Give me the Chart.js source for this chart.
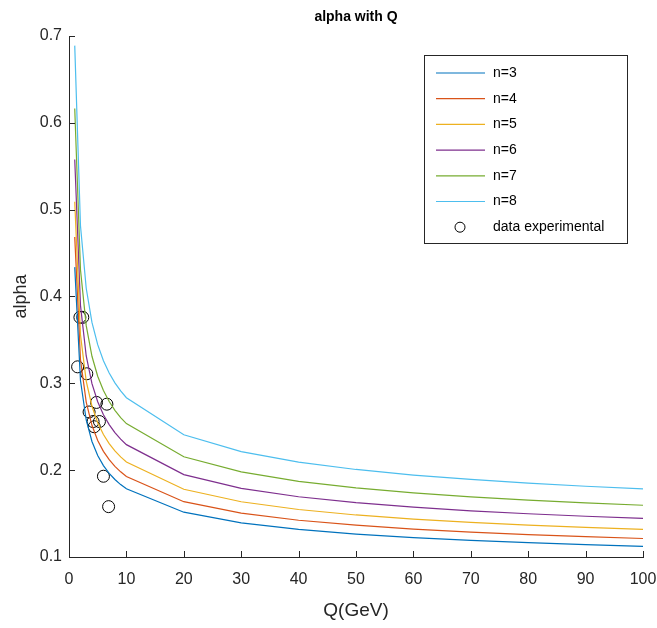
<!DOCTYPE html>
<html><head><meta charset="utf-8">
<script src="https://cdn.jsdelivr.net/npm/chart.js@4/dist/chart.umd.min.js"></script>
<style>html,body{margin:0;padding:0;background:#fff;}#wrap{width:657px;height:628px;}</style>
</head><body><div id="wrap"><canvas id="c" width="657" height="628"></canvas></div>
<script>
const Q = [1,2,3,4,5,6,7,8,9,10,20,30,40,50,60,70,80,90,100];
const alphaN3 = [0.4338,0.3032,0.2578,0.2330,0.2169,0.2053,0.1964,0.1893,0.1834,0.1785,0.1516,0.1393,0.1318,0.1264,0.1224,0.1192,0.1165,0.1143,0.1123];
const alphaN4 = [0.4685,0.3274,0.2784,0.2517,0.2342,0.2217,0.2121,0.2044,0.1981,0.1927,0.1637,0.1505,0.1423,0.1366,0.1322,0.1287,0.1258,0.1234,0.1213];
const alphaN5 = [0.5092,0.3559,0.3026,0.2736,0.2546,0.2410,0.2305,0.2222,0.2153,0.2095,0.1780,0.1636,0.1547,0.1484,0.1437,0.1399,0.1368,0.1341,0.1319];
const alphaN6 = [0.5577,0.3898,0.3315,0.2996,0.2788,0.2639,0.2525,0.2433,0.2358,0.2294,0.1949,0.1791,0.1694,0.1626,0.1574,0.1532,0.1498,0.1469,0.1444];
const alphaN7 = [0.6164,0.4308,0.3664,0.3312,0.3082,0.2917,0.2790,0.2689,0.2606,0.2536,0.2154,0.1980,0.1872,0.1797,0.1739,0.1693,0.1656,0.1624,0.1596];
const alphaN8 = [0.6889,0.4815,0.4095,0.3701,0.3445,0.3260,0.3119,0.3006,0.2913,0.2834,0.2408,0.2213,0.2093,0.2008,0.1944,0.1893,0.1851,0.1815,0.1784];
const expQ = [1.5,1.9,2.4,3.1,3.5,4.2,4.4,4.8,5.3,6.6,6.0,6.9];
const expAlpha = [0.319,0.376,0.376,0.311,0.267,0.256,0.250,0.278,0.256,0.276,0.193,0.158];
const seriesLabels = ['n=3','n=4','n=5','n=6','n=7','n=8'];
const seriesValues = [alphaN3,alphaN4,alphaN5,alphaN6,alphaN7,alphaN8];
const expLabel = 'data experimental';
const xTicks = [0,10,20,30,40,50,60,70,80,90,100];
const yTicks = [0.1,0.2,0.3,0.4,0.5,0.6,0.7];
const titleText = 'alpha with Q';
const xTitle = 'Q(GeV)';
const yTitle = 'alpha';

const colors = ['#0072BD','#D95319','#EDB120','#7E2F8E','#77AC30','#4DBEEE'];
const FONT = '"Liberation Sans", Arial, sans-serif';
const AX = '#262626';

const datasets = seriesLabels.map((lab,i)=>({
  label: lab,
  data: Q.map((q,j)=>({x:q,y:seriesValues[i][j]})),
  showLine: true, borderColor: colors[i], backgroundColor: colors[i],
  borderWidth: 1.2, pointRadius: 0, tension: 0, fill: false
}));
datasets.push({
  label: expLabel,
  data: expQ.map((q,j)=>({x:q,y:expAlpha[j]})),
  showLine: false, pointStyle: 'circle', pointRadius: 6,
  borderColor: '#000', backgroundColor: 'rgba(0,0,0,0)', borderWidth: 1
});

const decor = {
  id: 'decor',
  afterDraw(chart){
    const ctx = chart.ctx, ca = chart.chartArea;
    const xs = chart.scales.x, ys = chart.scales.y;
    ctx.save();
    ctx.strokeStyle = AX; ctx.lineWidth = 1;
    ctx.beginPath();
    xTicks.forEach(v=>{ const px = Math.round(xs.getPixelForValue(v))+0.5; ctx.moveTo(px, ca.bottom); ctx.lineTo(px, ca.bottom-6); });
    yTicks.forEach(v=>{ const py = Math.round(ys.getPixelForValue(v))+0.5; ctx.moveTo(ca.left, py); ctx.lineTo(ca.left+6, py); });
    ctx.stroke();
    // title
    ctx.fillStyle = '#000';
    ctx.font = 'bold 14px ' + FONT;
    ctx.textAlign = 'center'; ctx.textBaseline = 'middle';
    ctx.fillText(titleText, (ca.left+ca.right)/2, 17);
    // legend
    const L = 424.5, T = 55.5, W = 203, H = 188;
    ctx.fillStyle = '#fff'; ctx.fillRect(L, T, W, H);
    ctx.strokeStyle = AX; ctx.lineWidth = 1; ctx.strokeRect(L, T, W, H);
    ctx.font = '14px ' + FONT; ctx.textAlign = 'left'; ctx.textBaseline = 'middle';
    chart.data.datasets.forEach((ds,i)=>{
      const y = 73 + i*25.7;
      if (ds.showLine) {
        ctx.strokeStyle = ds.borderColor; ctx.lineWidth = 1.2;
        ctx.beginPath(); ctx.moveTo(436, y); ctx.lineTo(485, y); ctx.stroke();
      } else {
        ctx.strokeStyle = ds.borderColor; ctx.lineWidth = 1;
        ctx.beginPath(); ctx.arc(460, y, 5, 0, Math.PI*2); ctx.stroke();
      }
      ctx.fillStyle = '#000';
      ctx.fillText(ds.label, 493, y);
    });
    ctx.restore();
  }
};

new Chart(document.getElementById('c'), {
  type: 'scatter',
  data: { datasets },
  options: {
    responsive: false, animation: false, devicePixelRatio: 1,
    layout: { padding: { top: 36, right: 14, left: 0, bottom: 0 } },
    plugins: { legend: { display: false }, title: { display: false }, tooltip: { enabled: false } },
    scales: {
      x: {
        type: 'linear', min: 0, max: 100,
        afterFit(s){ s.height = 71; s.paddingRight = 0; s.paddingLeft = 0; },
        afterBuildTicks(s){ s.ticks = xTicks.map(v=>({value:v})); },
        grid: { display: false, drawTicks: false },
        border: { display: true, color: AX, width: 1 },
        ticks: { color: AX, font: { size: 16, family: FONT }, padding: 13, maxRotation: 0, autoSkip: false },
        title: { display: true, text: xTitle, color: AX, font: { size: 19, family: FONT }, padding: { top: 0, bottom: 6 } }
      },
      y: {
        type: 'linear', min: 0.1, max: 0.7,
        afterFit(s){ s.width = 69; s.paddingTop = 0; s.paddingBottom = 0; },
        afterBuildTicks(s){ s.ticks = yTicks.map(v=>({value:v})); },
        grid: { display: false, drawTicks: false },
        border: { display: true, color: AX, width: 1 },
        ticks: { color: AX, font: { size: 16, family: FONT }, padding: 7, autoSkip: false, callback: v => Number(v).toFixed(1) },
        title: { display: true, text: yTitle, color: AX, font: { size: 18, family: FONT }, padding: { top: 10, bottom: 0 } }
      }
    }
  },
  plugins: [decor]
});
</script></body></html>
